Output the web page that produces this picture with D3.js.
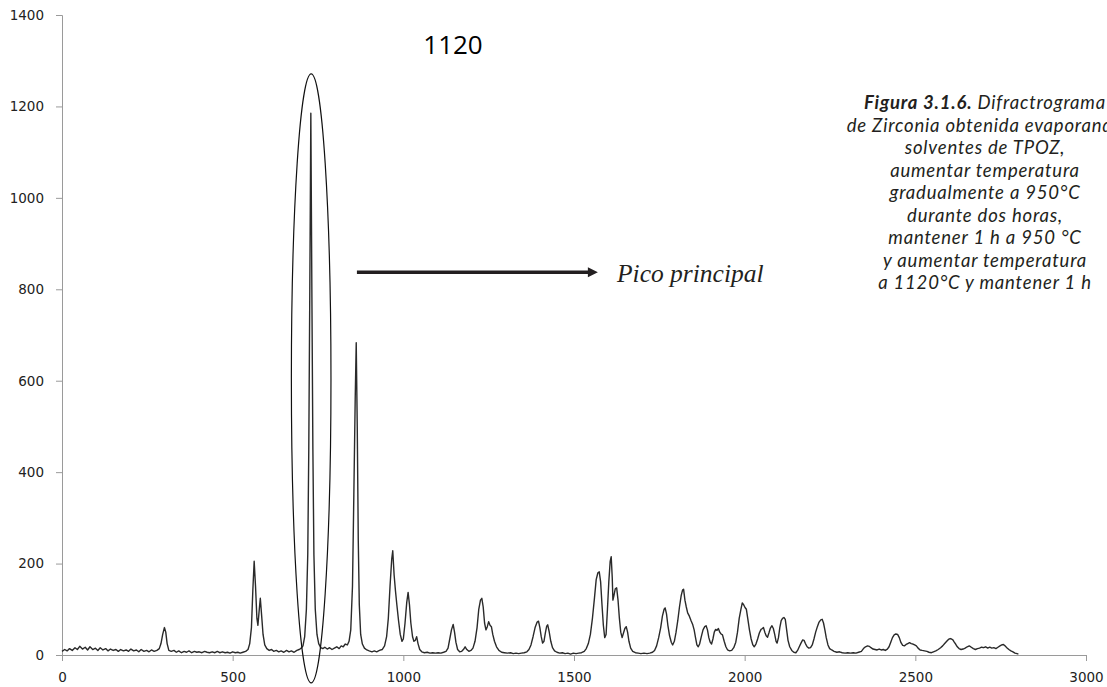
<!DOCTYPE html>
<html><head><meta charset="utf-8">
<script src="https://cdn.jsdelivr.net/npm/d3@7"></script>
<style>body{margin:0;background:#fff} svg{display:block}</style>
</head><body>
<svg id="chart" width="1107" height="687"></svg>
<script>
// ---- data ----
const pattern = [
[0,8],[8,12],[15,9],[22,14],[30,10],[38,16],[45,12],[52,19],[60,13],[68,17],[75,11],[82,18],[90,12],[98,15],[105,10],[112,16],[120,11],[128,14],[135,9],[142,13],[150,10],[158,12],[165,8],[172,12],[180,9],[188,11],[195,8],[202,13],[210,9],[218,11],[225,7],[232,12],[240,8],[248,10],[255,7],[262,11],[270,8],[278,10],[285,14],
[290,25],[295,45],[300,60],[304,50],[308,25],[313,10],
[320,8],[328,10],[335,6],[342,9],[350,5],[358,8],[365,6],[372,9],[380,5],[388,8],[395,6],[402,7],[410,5],[418,8],[425,6],[432,5],[440,7],[448,5],[455,8],[462,5],[470,7],[478,5],[485,6],[492,4],[500,7],[508,5],[515,6],[522,4],[530,6],[538,8],[545,12],
[550,25],[555,60],[559,140],[563,205],[567,150],[571,80],[574,65],[578,100],[581,124],[585,85],[589,45],[594,22],[600,14],[607,10],[614,12],[620,8],[628,10],[635,7],[642,9],[650,6],[658,10],[665,7],[672,9],[680,6],[688,10],[695,12],[701,15],
[706,20],[711,40],[716,100],[720,220],[723,450],[726,800],[729,1185],[732,800],[735,450],[738,220],[742,100],[747,45],[752,25],[758,16],[764,14],[770,17],[777,13],[784,16],[791,12],[798,15],[805,18],[812,14],[818,20],[824,18],[830,24],[836,22],[841,30],
[846,55],[851,150],[855,350],[859,560],[862,683],[865,500],[868,250],[871,110],[875,45],[880,24],[886,15],[893,11],[900,9],[908,7],[915,9],[922,7],[930,10],[938,12],[945,20],
[951,40],[956,80],[961,150],[966,210],[969,228],[973,175],[977,140],[981,110],[986,75],[991,45],[996,30],[1000,35],[1005,70],[1010,115],[1014,137],[1018,110],[1022,70],[1027,40],[1031,30],[1035,32],[1039,40],[1043,25],[1048,12],[1054,7],[1062,5],[1070,6],[1078,4],[1086,5],[1094,4],[1102,5],[1110,4],[1118,6],[1125,8],
[1131,15],[1136,35],[1141,55],[1146,67],[1150,50],[1154,28],[1159,12],[1165,7],[1171,8],[1176,12],[1181,18],[1186,12],[1192,8],[1198,10],[1204,15],
[1210,30],[1216,60],[1221,100],[1226,120],[1230,124],[1234,105],[1238,70],[1242,55],[1246,62],[1250,73],[1254,65],[1258,62],[1262,45],[1267,30],[1273,18],[1280,10],[1288,6],[1296,5],[1305,4],[1314,5],[1322,3],[1330,4],[1338,3],[1346,4],[1354,5],[1362,7],
[1368,12],[1374,22],[1380,40],[1386,60],[1392,72],[1396,74],[1400,60],[1404,40],[1408,26],[1412,30],[1416,48],[1420,63],[1423,66],[1427,52],[1432,30],[1437,16],[1443,9],[1450,6],[1458,4],[1466,5],[1474,3],[1482,4],[1490,2],[1498,4],[1506,3],[1514,4],[1522,5],[1530,8],
[1536,14],[1542,25],[1548,45],[1554,80],[1560,125],[1565,165],[1570,180],[1574,182],[1578,160],[1582,110],[1586,65],[1590,38],[1594,45],[1598,100],[1602,160],[1606,205],[1609,215],[1612,170],[1614,120],[1617,130],[1621,145],[1625,147],[1629,120],[1633,80],[1637,50],[1641,38],[1645,48],[1649,58],[1653,62],[1657,50],[1661,30],[1666,15],[1672,8],[1680,5],[1688,4],[1696,3],[1705,4],[1714,3],[1722,4],[1730,6],
[1736,10],[1742,20],[1748,38],[1754,60],[1759,85],[1764,100],[1767,103],[1771,90],[1775,65],[1780,42],[1785,28],[1789,22],[1794,30],[1799,50],[1804,75],[1809,105],[1814,130],[1818,142],[1821,144],[1825,120],[1829,105],[1833,92],[1838,85],[1843,75],[1848,66],[1852,55],[1856,38],[1860,22],[1864,18],[1868,24],[1873,40],[1878,55],[1883,62],[1887,64],[1891,55],[1895,38],[1899,28],[1903,24],[1907,35],[1911,50],[1915,56],[1919,54],[1923,58],[1927,50],[1931,46],[1935,44],[1940,30],[1945,18],[1950,11],[1956,9],[1962,10],[1968,16],[1974,28],[1979,50],[1984,80],[1989,100],[1993,114],[1997,110],[2001,104],[2005,100],[2009,80],[2014,55],[2019,35],[2024,22],[2028,18],[2033,24],[2038,35],[2043,48],[2048,56],[2052,58],[2055,60],[2059,50],[2063,42],[2067,39],[2071,48],[2075,58],[2080,64],[2084,58],[2088,45],[2092,30],[2095,26],[2099,38],[2103,60],[2107,75],[2111,80],[2115,82],[2119,78],[2123,55],[2127,32],[2132,18],[2138,10],[2144,6],[2150,5],[2155,10],[2160,18],[2165,26],[2170,33],[2174,32],[2178,25],[2183,18],[2188,15],[2193,16],[2198,22],[2203,35],[2208,50],[2213,62],[2218,72],[2223,77],[2227,78],[2231,70],[2235,55],[2239,38],[2244,22],[2249,14],[2255,11],[2262,8],[2270,6],[2278,7],[2286,5],[2294,4],[2302,5],[2310,4],[2318,5],[2326,4],[2334,6],[2342,8],[2348,14],[2354,18],[2360,20],[2365,19],[2370,16],[2376,13],[2382,12],[2388,11],[2394,13],[2400,11],[2406,12],[2412,10],[2418,13],[2423,18],[2428,28],[2433,38],[2438,44],[2443,46],[2448,45],[2453,38],[2458,27],[2463,21],[2468,20],[2473,23],[2478,25],[2483,27],[2488,25],[2493,24],[2498,22],[2503,20],[2508,15],[2514,11],[2520,10],[2527,9],[2534,8],[2540,6],[2547,5],[2553,7],[2560,9],[2567,12],[2574,16],[2580,20],[2586,25],[2592,30],[2597,34],[2602,36],[2606,35],[2610,33],[2614,28],[2618,24],[2623,18],[2628,14],[2634,12],[2640,13],[2646,15],[2652,18],[2658,20],[2664,17],[2670,14],[2676,12],[2682,14],[2688,15],[2694,17],[2700,16],[2706,18],[2712,15],[2718,17],[2724,15],[2730,16],[2736,14],[2742,17],[2748,20],[2753,22],[2758,23],[2763,20],[2768,16],[2774,12],[2780,9],[2786,7],[2792,4],[2798,3],[2802,2]
];
const xTicks = [0, 500, 1000, 1500, 2000, 2500, 3000];
const yTicks = [0, 200, 400, 600, 800, 1000, 1200, 1400];
const chartTitle = "1120";
const peakLabel = "Pico principal";
const mainPeak = [730, 1185];
const captionBold = "Figura 3.1.6.";
const captionLines = [
  " Difractrograma",
  "de Zirconia obtenida evaporando",
  "solventes de TPOZ,",
  "aumentar temperatura",
  "gradualmente a 950°C",
  "durante dos horas,",
  "mantener 1 h a 950 °C",
  "y aumentar temperatura",
  "a 1120°C y mantener 1 h"
];

// ---- layout ----
const svg = d3.select("#chart");
const m = {left: 62, right: 1086, top: 15, bottom: 655};
const x = d3.scaleLinear().domain([0, 3000]).range([m.left, m.right]);
const y = d3.scaleLinear().domain([0, 1400]).range([m.bottom, m.top]);

const axisColor = "#9a9a9a";
const labelFont = "'DejaVu Sans', Verdana, sans-serif";

// y axis
const gy = svg.append("g").attr("transform", `translate(${m.left},0)`)
  .call(d3.axisLeft(y).tickValues(yTicks).tickSize(6).tickPadding(12).tickFormat(d3.format("d")));
gy.select(".domain").attr("stroke", axisColor);
gy.selectAll(".tick line").attr("stroke", axisColor);
gy.selectAll(".tick text").attr("fill", "#222").style("font-family", labelFont).style("font-size", "13.5px");

// x axis
const gx = svg.append("g").attr("transform", `translate(0,${m.bottom})`)
  .call(d3.axisBottom(x).tickValues(xTicks).tickSize(6).tickPadding(11).tickFormat(d3.format("d")));
gx.select(".domain").attr("stroke", axisColor);
gx.selectAll(".tick line").attr("stroke", axisColor);
gx.selectAll(".tick text").attr("fill", "#222").style("font-family", labelFont).style("font-size", "13.5px");

// data line
const line = d3.line().x(d => x(d[0])).y(d => y(d[1]));
svg.append("path").datum(pattern)
  .attr("d", line).attr("fill", "none").attr("stroke", "#2a2a2a")
  .attr("stroke-width", 1.4).attr("stroke-linejoin", "round");

// title
svg.append("text").attr("x", 453).attr("y", 54).attr("text-anchor", "middle")
  .style("font-family", "'Open Sans', Lato, sans-serif").style("font-size", "26px").attr("fill", "#000")
  .text(chartTitle);

// ellipse around main peak
const ellTop = 1271, ellBottom = -61, ellHalfW = 58;
svg.append("ellipse")
  .attr("cx", x(mainPeak[0]))
  .attr("cy", y((ellTop + ellBottom) / 2))
  .attr("rx", x(mainPeak[0] + ellHalfW) - x(mainPeak[0]))
  .attr("ry", (y(ellBottom) - y(ellTop)) / 2)
  .attr("fill", "none").attr("stroke", "#111").attr("stroke-width", 1.2);

// arrow
const arrY = y(837), ax0 = x(864), ax1 = x(1570);
svg.append("line").attr("x1", ax0).attr("x2", ax1 - 8).attr("y1", arrY).attr("y2", arrY)
  .attr("stroke", "#231f20").attr("stroke-width", 3.5);
svg.append("path")
  .attr("d", `M${ax1 - 10},${arrY - 5} L${ax1},${arrY} L${ax1 - 10},${arrY + 5} Z`)
  .attr("fill", "#231f20");
svg.append("text").attr("x", x(1626)).attr("y", y(816))
  .style("font-family", "'Liberation Serif', 'Times New Roman', serif").style("font-style", "italic")
  .style("font-size", "25.5px").attr("fill", "#231f20").text(peakLabel);

// caption
const cap = svg.append("text").attr("text-anchor", "middle")
  .style("font-family", "Lato, 'Open Sans', sans-serif").style("font-style", "italic")
  .style("font-size", "18.5px").style("letter-spacing", "0.8px").attr("fill", "#231f20");
const cx = 985, cy0 = 109, lh = 22.5;
const first = cap.append("tspan").attr("x", cx).attr("y", cy0);
first.append("tspan").style("font-weight", "bold").text(captionBold);
first.append("tspan").text(captionLines[0]);
captionLines.slice(1).forEach((t, i) => {
  cap.append("tspan").attr("x", cx).attr("y", cy0 + lh * (i + 1)).text(t);
});
</script>
</body></html>
